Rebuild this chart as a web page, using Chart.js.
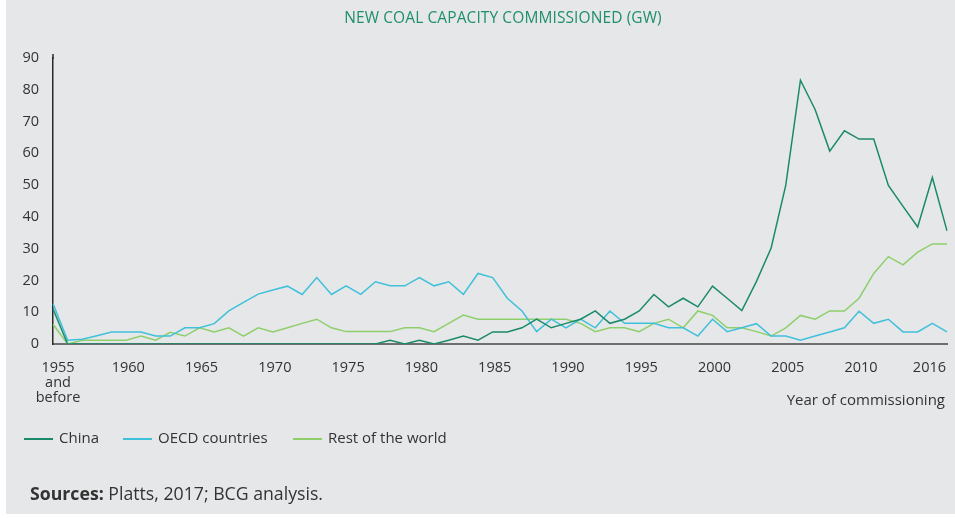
<!DOCTYPE html>
<html>
<head>
<meta charset="utf-8">
<script src="https://cdn.jsdelivr.net/npm/chart.js@4/dist/chart.umd.min.js"></script>
<style>
  html, body { margin: 0; padding: 0; background: #ffffff; }
  body { width: 955px; height: 518px; position: relative; overflow: hidden; font-family: "Open Sans", "Noto Sans", sans-serif; }
  #panel { position: absolute; left: 6px; top: 0; width: 949px; height: 514px; background: #e6e7e8; }
  #wrap { position: absolute; left: 0; top: 0; width: 955px; height: 518px; }
  .txt { position: absolute; white-space: nowrap; color: #333; }
  #title { left: 0; width: 1006px; text-align: center; top: 6px; font-size: 15.5px; letter-spacing: 0.1px; color: #1f8f6c; font-weight: 400; }
  #xtitle { right: 10px; top: 389px; font-size: 15px; }
  .lg { position: absolute; top: 427px; font-size: 15px; color: #333; white-space: nowrap; }
  .sw { position: absolute; top: 438px; width: 29px; height: 1.5px; }
  #sources { left: 30px; top: 481px; font-size: 17.7px; }
</style>
</head>
<body>
<div id="panel"></div>
<div id="wrap"><canvas id="c" width="955" height="518"></canvas></div>
<div class="txt" id="title">NEW COAL CAPACITY COMMISSIONED (GW)</div>
<div class="txt" id="xtitle">Year of commissioning</div>
<div id="legend"></div>
<div class="txt" id="sources"><b>Sources:</b> Platts, 2017; BCG analysis.</div>
<script>
// ---- Data ----
const years = Array.from({length: 62}, (_, k) => String(1955 + k)); // 1955 ("and before") .. 2016

const china = [
  11, 0, 0, 0, 0, 0, 0, 0, 0, 0,
  0, 0, 0, 0, 0, 0, 0, 0, 0, 0,
  0, 0, 0, 1.2, 0, 1.2, 0, 1.2, 2.5, 1.2,
  3.8, 3.8, 5.1, 7.8, 5.1, 6.5, 7.8, 10.4, 6.5, 7.8,
  10.4, 15.6, 11.7, 14.4, 11.7, 18.2, 14.4, 10.5, 19.7, 30.2,
  50, 83, 73.8, 60.7, 67.1, 64.5, 64.5, 49.9, 43.3, 36.8,
  52.4, 35.6
];
const oecd = [
  12.7, 1.2, 1.5, 2.6, 3.8, 3.8, 3.8, 2.5, 2.5, 5.1,
  5.1, 6.4, 10.4, 13.1, 15.7, 17.0, 18.2, 15.6, 20.9, 15.6,
  18.3, 15.6, 19.6, 18.3, 18.3, 20.9, 18.3, 19.6, 15.6, 22.2,
  20.9, 14.4, 10.4, 3.9, 7.8, 5.1, 7.8, 5.1, 10.4, 6.5,
  6.5, 6.5, 5.1, 5.1, 2.5, 7.8, 3.9, 5.1, 6.4, 2.5,
  2.5, 1.2, 2.5, 3.8, 5.1, 10.3, 6.5, 7.8, 3.8, 3.8,
  6.5, 3.8
];
const restOfWorld = [
  6.2, 0, 1.2, 1.2, 1.2, 1.2, 2.5, 1.2, 3.7, 2.5,
  5.1, 3.8, 5.1, 2.5, 5.1, 3.8, 5.1, 6.5, 7.8, 5.1,
  3.9, 3.9, 3.9, 3.9, 5.1, 5.1, 3.9, 6.5, 9.1, 7.8,
  7.8, 7.8, 7.8, 7.8, 7.8, 7.8, 6.5, 3.9, 5.1, 5.1,
  3.9, 6.5, 7.8, 5.1, 10.4, 9.0, 5.1, 5.1, 3.9, 2.5,
  5.1, 9.0, 7.8, 10.4, 10.4, 14.4, 22.2, 27.5, 24.9, 28.9,
  31.5, 31.5
];

const seriesNames = ["China", "OECD countries", "Rest of the world"];
const seriesColors = ["#1b8a6b", "#3fc0db", "#8ecf6c"];

// x tick labels: year shown -> text lines
const xTickYears = ["1955", "1960", "1965", "1970", "1975", "1980", "1985", "1990", "1995", "2000", "2005", "2010", "2016"];
const xTickTexts = [["1955", "and", "before"], ["1960"], ["1965"], ["1970"], ["1975"], ["1980"], ["1985"], ["1990"], ["1995"], ["2000"], ["2005"], ["2010"], ["2016"]];
const yTicks = [0, 10, 20, 30, 40, 50, 60, 70, 80, 90];

// ---- Legend (HTML) ----
const legendEl = document.getElementById('legend');
const legendSwatchX = [24, 123, 293];
seriesNames.forEach((n, i) => {
  const sw = document.createElement('div');
  sw.className = 'sw';
  sw.style.left = legendSwatchX[i] + 'px';
  sw.style.background = seriesColors[i];
  legendEl.appendChild(sw);
  const t = document.createElement('div');
  t.className = 'lg';
  t.style.left = (legendSwatchX[i] + 35) + 'px';
  t.textContent = n;
  legendEl.appendChild(t);
});

// ---- Plugins ----
const xLabels = {
  id: 'xLabels',
  afterDraw(chart) {
    const ctx = chart.ctx;
    const xs = chart.scales.x;
    const ca = chart.chartArea;
    ctx.save();
    // small extension of the y axis line above the top tick
    ctx.strokeStyle = '#2a2a2a';
    ctx.lineWidth = 1.5;
    ctx.beginPath();
    ctx.moveTo(ca.left, ca.top - 4);
    ctx.lineTo(ca.left, ca.top + 1);
    ctx.stroke();
    ctx.fillStyle = '#333';
    ctx.font = '14.5px "Open Sans", "Noto Sans", sans-serif';
    ctx.textBaseline = 'middle';
    xTickYears.forEach((y, k) => {
      const idx = years.indexOf(y);
      let px = xs.getPixelForValue(idx);
      const last = k === xTickYears.length - 1;
      ctx.textAlign = last ? 'right' : 'center';
      if (last) px -= 1; else if (k === 0) px += 5; else px += 2;
      xTickTexts[k].forEach((line, j) => {
        ctx.fillText(line, px, 368 + j * 15);
      });
    });
    ctx.restore();
  }
};

new Chart(document.getElementById('c'), {
  type: 'line',
  data: {
    labels: years,
    datasets: [
      { label: seriesNames[0], data: china, borderColor: seriesColors[0], backgroundColor: seriesColors[0], borderWidth: 1.5, pointRadius: 0, tension: 0, fill: false },
      { label: seriesNames[1], data: oecd, borderColor: seriesColors[1], backgroundColor: seriesColors[1], borderWidth: 1.5, pointRadius: 0, tension: 0, fill: false },
      { label: seriesNames[2], data: restOfWorld, borderColor: seriesColors[2], backgroundColor: seriesColors[2], borderWidth: 1.5, pointRadius: 0, tension: 0, fill: false }
    ]
  },
  options: {
    responsive: false,
    animation: false,
    events: [],
    layout: { padding: { left: 0, right: 8, top: 58, bottom: 0 } },
    plugins: { legend: { display: false }, tooltip: { enabled: false }, title: { display: false } },
    scales: {
      x: {
        type: 'category',
        offset: false,
        grid: { display: false, drawTicks: false },
        border: { display: true, color: '#6f6f6f', width: 2 },
        ticks: { display: false },
        afterFit(s) { s.height = 174; }
      },
      y: {
        min: 0, max: 90,
        afterBuildTicks(s) { s.ticks = yTicks.map(v => ({ value: v })); },
        grid: { display: false, drawTicks: false },
        border: { display: true, color: '#2a2a2a', width: 1.5 },
        ticks: { color: '#333', font: { family: '"Open Sans", "Noto Sans", sans-serif', size: 14.5 }, padding: 14 },
        afterFit(s) { s.width = 53; }
      }
    }
  },
  plugins: [xLabels]
});
</script>
</body>
</html>
